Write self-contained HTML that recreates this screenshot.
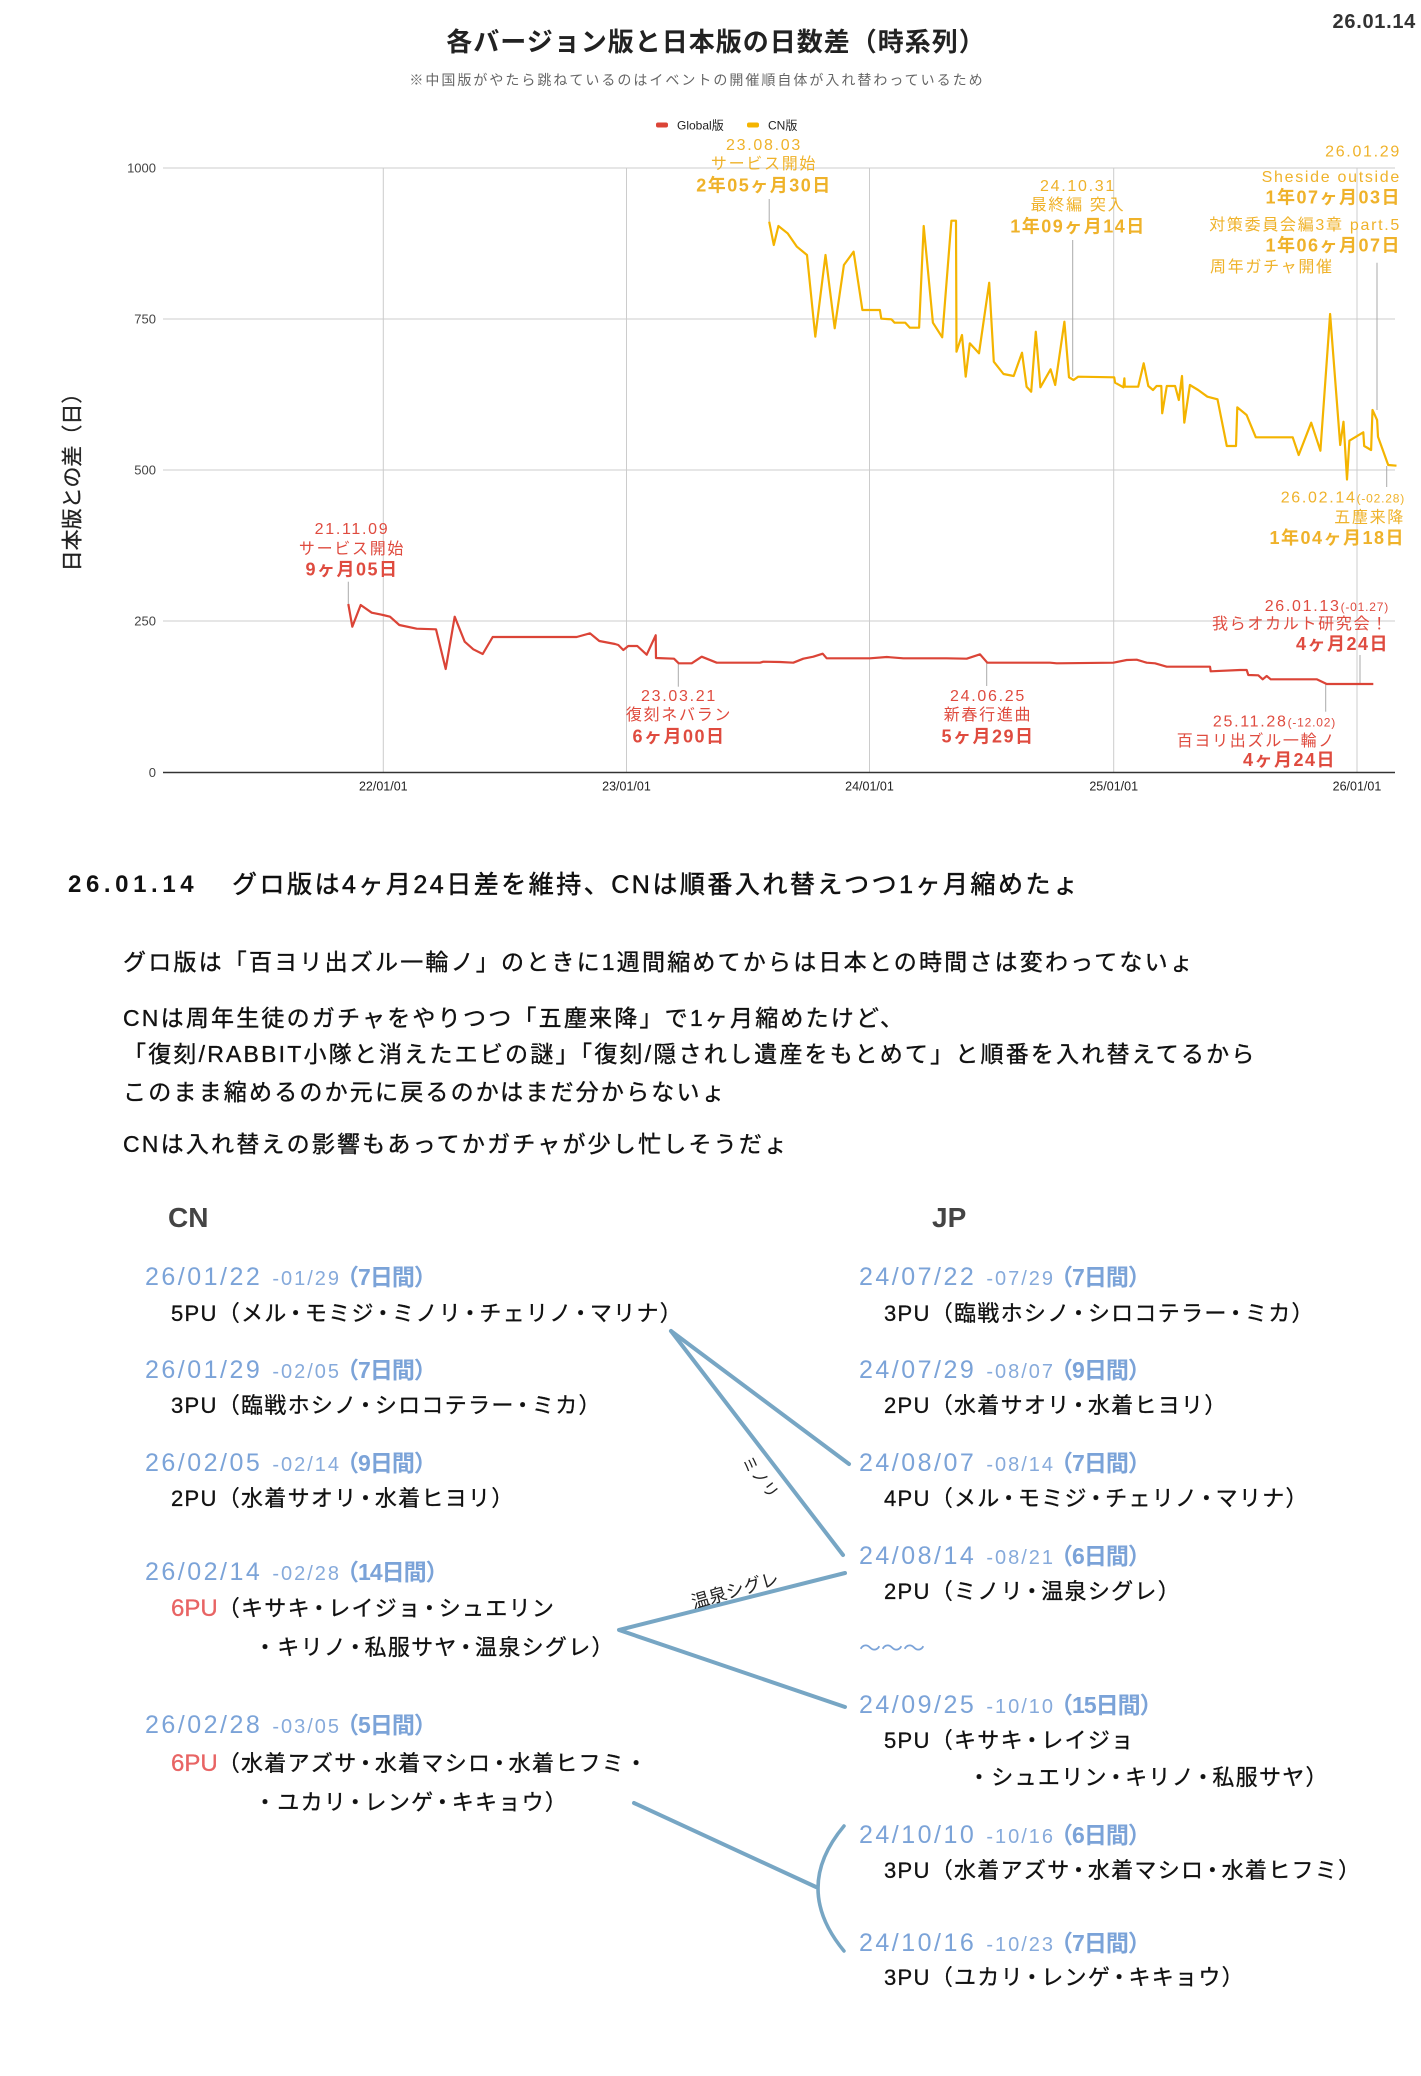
<!DOCTYPE html>
<html lang="ja">
<head>
<meta charset="utf-8">
<style>
  html,body{margin:0;padding:0;background:#fff;}
  body{width:1421px;height:2076px;position:relative;overflow:hidden;font-family:"Liberation Sans","Noto Sans CJK JP",sans-serif;}
  .t{position:absolute;white-space:nowrap;font-family:"Liberation Sans","Noto Sans CJK JP",sans-serif;}
  .p{left:123px;font-size:23px;letter-spacing:2.2px;line-height:30px;color:#111;-webkit-text-stroke:0.35px #111;}
  .d{font-size:25px;line-height:32px;color:#7ba3d8;}
  .d .a{letter-spacing:2.5px;}
  .d .b{font-size:20px;letter-spacing:2px;margin-left:10px;color:#86aadb;}
  .d .c{font-size:23px;letter-spacing:-1px;margin-left:-5px;font-weight:bold;}
  .i{font-size:22px;letter-spacing:1.3px;line-height:30px;color:#111;-webkit-text-stroke:0.3px #111;}
  .i i{font-style:normal;margin:0 -3px;}
  .r{color:#e86464;font-size:24px;letter-spacing:0;-webkit-text-stroke:0.3px #e86464;}
  .h{font-size:28px;font-weight:bold;color:#444;line-height:34px;}
</style>
</head>
<body>

<svg width="1421" height="800" viewBox="0 0 1421 800" style="position:absolute;left:0;top:0" font-family="Liberation Sans, Noto Sans CJK JP, sans-serif">
  <text x="1416" y="28" text-anchor="end" font-size="20" font-weight="bold" fill="#333" letter-spacing="0.7">26.01.14</text>
  <text x="716" y="51" text-anchor="middle" font-size="26" font-weight="bold" fill="#222" letter-spacing="1">各バージョン版と日本版の日数差（時系列）</text>
  <text x="697" y="85" text-anchor="middle" font-size="14" fill="#666" letter-spacing="2">※中国版がやたら跳ねているのはイベントの開催順自体が入れ替わっているため</text>
  <rect x="656" y="122.5" width="12" height="5" rx="2" fill="#db4437"/>
  <text x="677" y="129.3" font-size="12" fill="#222">Global版</text>
  <rect x="747" y="122.5" width="12" height="5" rx="2" fill="#f4b400"/>
  <text x="768" y="129.3" font-size="12" fill="#222">CN版</text>

  <g stroke="#cccccc" stroke-width="1">
    <line x1="163" y1="168" x2="1395" y2="168"/>
    <line x1="163" y1="319" x2="1395" y2="319"/>
    <line x1="163" y1="470" x2="1395" y2="470"/>
    <line x1="163" y1="621" x2="1395" y2="621"/>
    <line x1="383.3" y1="168" x2="383.3" y2="772"/>
    <line x1="626.5" y1="168" x2="626.5" y2="772"/>
    <line x1="869.5" y1="168" x2="869.5" y2="772"/>
    <line x1="1113.7" y1="168" x2="1113.7" y2="772"/>
    <line x1="1357" y1="168" x2="1357" y2="772"/>
  </g>
  <line x1="163" y1="772.5" x2="1395" y2="772.5" stroke="#333" stroke-width="1.5"/>

  <g font-size="13" fill="#444" text-anchor="end">
    <text x="156" y="172.7">1000</text>
    <text x="156" y="323.7">750</text>
    <text x="156" y="474.7">500</text>
    <text x="156" y="625.7">250</text>
    <text x="156" y="777.2">0</text>
  </g>
  <g font-size="12.5" fill="#222" text-anchor="middle">
    <text x="383.3" y="790.5">22/01/01</text>
    <text x="626.5" y="790.5">23/01/01</text>
    <text x="869.5" y="790.5">24/01/01</text>
    <text x="1113.7" y="790.5">25/01/01</text>
    <text x="1357" y="790.5">26/01/01</text>
  </g>
  <text transform="translate(72,477) rotate(-90)" x="0" y="7.5" text-anchor="middle" font-size="21" fill="#222" stroke="#222" stroke-width="0.3">日本版との差（日）</text>

  <g stroke="#aaaaaa" stroke-width="1">
    <line x1="348.3" y1="581.7" x2="348.3" y2="604"/>
    <line x1="678.3" y1="663" x2="678.3" y2="686.7"/>
    <line x1="986.7" y1="663" x2="986.7" y2="686"/>
    <line x1="1360" y1="655" x2="1360" y2="683.3"/>
    <line x1="1325.7" y1="684" x2="1325.7" y2="711.7"/>
    <line x1="769.2" y1="199" x2="769.2" y2="221.7"/>
    <line x1="1072.7" y1="240" x2="1072.7" y2="376.7"/>
    <line x1="1377" y1="262.7" x2="1377" y2="410"/>
    <line x1="1386.7" y1="466" x2="1386.7" y2="487"/>
  </g>

  <polyline fill="none" stroke="#db4437" stroke-width="2.2" stroke-linejoin="round" points="348.3,604 352.3,626.7 360.7,605 371.7,612.7 383,615 390,616.7 399.3,625 416.7,628.7 436,629.3 445.7,669 454.7,616.7 464.7,641.7 473.3,649.3 482.7,654 492.7,637 576.7,637 590,633.3 599.3,641 615,644 618.3,645 623.3,650 628.3,646 637.3,646 646.7,654.7 655.7,635.3 656,658 674,658.7 678.7,663.3 691.7,663.3 701.7,656.7 716.7,662.7 760,662.7 763.3,661.7 780,662 793.3,662.7 803.3,658.7 813.3,656.7 822.7,653.7 826.7,658.3 870,658.3 886.7,657 903.3,658.3 946.7,658.3 966.7,658.7 980,654.3 987.3,662.7 1050,662.7 1056.7,663.3 1113.3,662.7 1126.7,660 1136.7,659.7 1146.7,662.7 1155,663.3 1166.7,666.7 1210,666.7 1210.7,671.3 1240,670 1246.7,670 1248.3,675 1258.3,675.3 1262.7,679.3 1266.7,676 1270.7,679.3 1316.7,679.3 1326.7,684 1373.3,684"/>

  <polyline fill="none" stroke="#f4b400" stroke-width="2.2" stroke-linejoin="round" points="769.2,221.7 773.8,245 778.4,226 787.6,233.3 796.9,246.7 807,255 815.3,336.7 825.5,255 834.7,328.3 843.9,265 853.6,251.7 862.4,310 879.9,310 881.3,318.7 891.4,319.3 894.6,322.7 905.3,322.7 909.9,327.7 919.1,327.7 923.7,226 932.9,322.7 942.2,337.3 951.4,220.7 956,220.7 956.5,351.7 962,335 965.7,376.7 969.8,343.3 979,353.3 989.2,282.7 993.8,361.7 1003.5,374 1013.7,376 1022,352.7 1026.6,386.7 1031.2,391.7 1035.8,331.7 1040.4,387.3 1050.6,369.3 1055.2,385 1064.4,321.7 1069,377.3 1073.6,380 1078.2,376.7 1114.2,377.3 1115.1,382.7 1123.4,387.3 1124.4,378.3 1124.8,386.7 1138.2,386.7 1143.7,363.3 1148.3,386 1153,390 1156.6,386 1161.3,386 1162.2,413.3 1166.8,386 1175.1,386 1178.8,400 1182,376 1184.3,422.7 1189.9,385 1198.2,390 1207.4,396.7 1217.5,399.3 1226.8,446 1236,446 1237.3,407.3 1246.6,415 1255.8,437.3 1292.7,437.3 1298.7,455 1311.2,422.7 1320.4,450.7 1330.1,314 1340.2,445 1343.5,421.7 1347,479.5 1349.4,440.7 1363.3,432.3 1364.2,446 1371.1,450 1372.5,410 1377.1,420 1378,436.7 1388.2,465 1396.5,465.7"/>

  <g fill="#df4b3f" letter-spacing="1.7">
    <g text-anchor="middle">
      <text x="352" y="533.8" font-size="16">21.11.09</text>
      <text x="352" y="553.8" font-size="16">サービス開始</text>
      <text x="352" y="575.5" font-size="18" font-weight="bold" letter-spacing="1.5">9ヶ月05日</text>
      <text x="679" y="700.8" font-size="16">23.03.21</text>
      <text x="679" y="719.8" font-size="16">復刻ネバラン</text>
      <text x="679" y="742.5" font-size="18" font-weight="bold" letter-spacing="1.5">6ヶ月00日</text>
      <text x="988" y="700.8" font-size="16">24.06.25</text>
      <text x="988" y="719.8" font-size="16">新春行進曲</text>
      <text x="988" y="742.5" font-size="18" font-weight="bold" letter-spacing="1.5">5ヶ月29日</text>
    </g>
    <g text-anchor="end">
      <text x="1389" y="610.8" font-size="16">26.01.13<tspan font-size="12" letter-spacing="0.8">(-01.27)</tspan></text>
      <text x="1389" y="629.1" font-size="16">我らオカルト研究会！</text>
      <text x="1389" y="649.8" font-size="18" font-weight="bold" letter-spacing="1.5">4ヶ月24日</text>
      <text x="1336" y="726.5" font-size="16">25.11.28<tspan font-size="12" letter-spacing="0.8">(-12.02)</tspan></text>
      <text x="1336" y="745.8" font-size="16">百ヨリ出ズル一輪ノ</text>
      <text x="1336" y="765.8" font-size="18" font-weight="bold" letter-spacing="1.5">4ヶ月24日</text>
    </g>
  </g>

  <g fill="#efb22a" letter-spacing="1.7">
    <g text-anchor="middle">
      <text x="764" y="149.8" font-size="16">23.08.03</text>
      <text x="764" y="168.8" font-size="16">サービス開始</text>
      <text x="764" y="191.5" font-size="18" font-weight="bold" letter-spacing="1.5">2年05ヶ月30日</text>
      <text x="1078" y="190.8" font-size="16">24.10.31</text>
      <text x="1078" y="209.8" font-size="16">最終編 突入</text>
      <text x="1078" y="232.5" font-size="18" font-weight="bold" letter-spacing="1.5">1年09ヶ月14日</text>
    </g>
    <g text-anchor="end">
      <text x="1401" y="156.5" font-size="16">26.01.29</text>
      <text x="1401" y="181.8" font-size="16">Sheside outside</text>
      <text x="1401" y="203.5" font-size="18" font-weight="bold" letter-spacing="1.5">1年07ヶ月03日</text>
      <text x="1401" y="229.8" font-size="16">対策委員会編3章 part.5</text>
      <text x="1401" y="251.5" font-size="18" font-weight="bold" letter-spacing="1.5">1年06ヶ月07日</text>
      <text x="1405" y="502.5" font-size="16">26.02.14<tspan font-size="12" letter-spacing="0.8">(-02.28)</tspan></text>
      <text x="1405" y="522.5" font-size="16">五塵来降</text>
      <text x="1405" y="543.8" font-size="18" font-weight="bold" letter-spacing="1.5">1年04ヶ月18日</text>
    </g>
    <text x="1210" y="271.8" font-size="16">周年ガチャ開催</text>
  </g>
</svg>

<div class="t" style="left:68px;top:869px;line-height:32px;font-size:24px;font-weight:bold;letter-spacing:4.6px;color:#111;">26.01.14</div>
<div class="t" style="left:232px;top:869px;line-height:32px;font-size:25px;letter-spacing:2.5px;color:#111;-webkit-text-stroke:0.5px #111;">グロ版は4ヶ月24日差を維持、CNは順番入れ替えつつ1ヶ月縮めたょ</div>

<div class="t p" style="top:947px;">グロ版は「百ヨリ出ズル一輪ノ」のときに1週間縮めてからは日本との時間さは変わってないょ</div>
<div class="t p" style="top:1003px;">CNは周年生徒のガチャをやりつつ「五塵来降」で1ヶ月縮めたけど、</div>
<div class="t p" style="top:1039px;">「復刻/RABBIT小隊と消えたエビの謎」「復刻/隠されし遺産をもとめて」と順番を入れ替えてるから</div>
<div class="t p" style="top:1077px;">このまま縮めるのか元に戻るのかはまだ分からないょ</div>
<div class="t p" style="top:1129px;">CNは入れ替えの影響もあってかガチャが少し忙しそうだょ</div>

<div class="t h" style="left:168px;top:1201px;">CN</div>
<div class="t h" style="left:932px;top:1201px;">JP</div>

<svg width="1421" height="2076" viewBox="0 0 1421 2076" style="position:absolute;left:0;top:0" font-family="Liberation Sans, Noto Sans CJK JP, sans-serif">
  <g stroke="#77a6c4" stroke-width="4" fill="none" stroke-linecap="round" stroke-linejoin="round">
    <line x1="671" y1="1331" x2="849" y2="1464"/>
    <line x1="671" y1="1331" x2="843" y2="1555"/>
    <polyline points="845,1573 619,1630 845,1707"/>
    <line x1="634" y1="1803" x2="816" y2="1887"/>
    <path d="M844,1826 Q792,1888 844,1951" stroke-width="3.5"/>
  </g>
  <text transform="translate(760,1477) rotate(52)" text-anchor="middle" y="5.5" font-size="16" fill="#222">ミノリ</text>
  <text transform="translate(735,1590) rotate(-16)" text-anchor="middle" y="6.5" font-size="18" fill="#222">温泉シグレ</text>
</svg>

<div class="t d" style="left:145px;top:1261px;"><span class="a">26/01/22</span><span class="b">-01/29</span><span class="c">（7日間）</span></div>
<div class="t i" style="left:171px;top:1299px;">5PU（メル<i>・</i>モミジ<i>・</i>ミノリ<i>・</i>チェリノ<i>・</i>マリナ）</div>
<div class="t d" style="left:145px;top:1354px;"><span class="a">26/01/29</span><span class="b">-02/05</span><span class="c">（7日間）</span></div>
<div class="t i" style="left:171px;top:1391px;">3PU（臨戦ホシノ<i>・</i>シロコテラー<i>・</i>ミカ）</div>
<div class="t d" style="left:145px;top:1447px;"><span class="a">26/02/05</span><span class="b">-02/14</span><span class="c">（9日間）</span></div>
<div class="t i" style="left:171px;top:1484px;">2PU（水着サオリ<i>・</i>水着ヒヨリ）</div>
<div class="t d" style="left:145px;top:1556px;"><span class="a">26/02/14</span><span class="b">-02/28</span><span class="c">（14日間）</span></div>
<div class="t i" style="left:171px;top:1594px;"><span class="r">6PU</span>（キサキ<i>・</i>レイジョ<i>・</i>シュエリン</div>
<div class="t i" style="left:254px;top:1633px;">・キリノ<i>・</i>私服サヤ<i>・</i>温泉シグレ）</div>
<div class="t d" style="left:145px;top:1709px;"><span class="a">26/02/28</span><span class="b">-03/05</span><span class="c">（5日間）</span></div>
<div class="t i" style="left:171px;top:1749px;"><span class="r">6PU</span>（水着アズサ<i>・</i>水着マシロ<i>・</i>水着ヒフミ・</div>
<div class="t i" style="left:254px;top:1788px;">・ユカリ<i>・</i>レンゲ<i>・</i>キキョウ）</div>

<div class="t d" style="left:859px;top:1261px;"><span class="a">24/07/22</span><span class="b">-07/29</span><span class="c">（7日間）</span></div>
<div class="t i" style="left:884px;top:1299px;">3PU（臨戦ホシノ<i>・</i>シロコテラー<i>・</i>ミカ）</div>
<div class="t d" style="left:859px;top:1354px;"><span class="a">24/07/29</span><span class="b">-08/07</span><span class="c">（9日間）</span></div>
<div class="t i" style="left:884px;top:1391px;">2PU（水着サオリ<i>・</i>水着ヒヨリ）</div>
<div class="t d" style="left:859px;top:1447px;"><span class="a">24/08/07</span><span class="b">-08/14</span><span class="c">（7日間）</span></div>
<div class="t i" style="left:884px;top:1484px;">4PU（メル<i>・</i>モミジ<i>・</i>チェリノ<i>・</i>マリナ）</div>
<div class="t d" style="left:859px;top:1540px;"><span class="a">24/08/14</span><span class="b">-08/21</span><span class="c">（6日間）</span></div>
<div class="t i" style="left:884px;top:1577px;">2PU（ミノリ<i>・</i>温泉シグレ）</div>
<div class="t d" style="left:859px;top:1633px;font-size:22px;">〜〜〜</div>
<div class="t d" style="left:859px;top:1689px;"><span class="a">24/09/25</span><span class="b">-10/10</span><span class="c">（15日間）</span></div>
<div class="t i" style="left:884px;top:1726px;">5PU（キサキ<i>・</i>レイジョ</div>
<div class="t i" style="left:968px;top:1763px;">・シュエリン<i>・</i>キリノ<i>・</i>私服サヤ）</div>
<div class="t d" style="left:859px;top:1819px;"><span class="a">24/10/10</span><span class="b">-10/16</span><span class="c">（6日間）</span></div>
<div class="t i" style="left:884px;top:1856px;">3PU（水着アズサ<i>・</i>水着マシロ<i>・</i>水着ヒフミ）</div>
<div class="t d" style="left:859px;top:1927px;"><span class="a">24/10/16</span><span class="b">-10/23</span><span class="c">（7日間）</span></div>
<div class="t i" style="left:884px;top:1963px;">3PU（ユカリ<i>・</i>レンゲ<i>・</i>キキョウ）</div>

</body>
</html>
